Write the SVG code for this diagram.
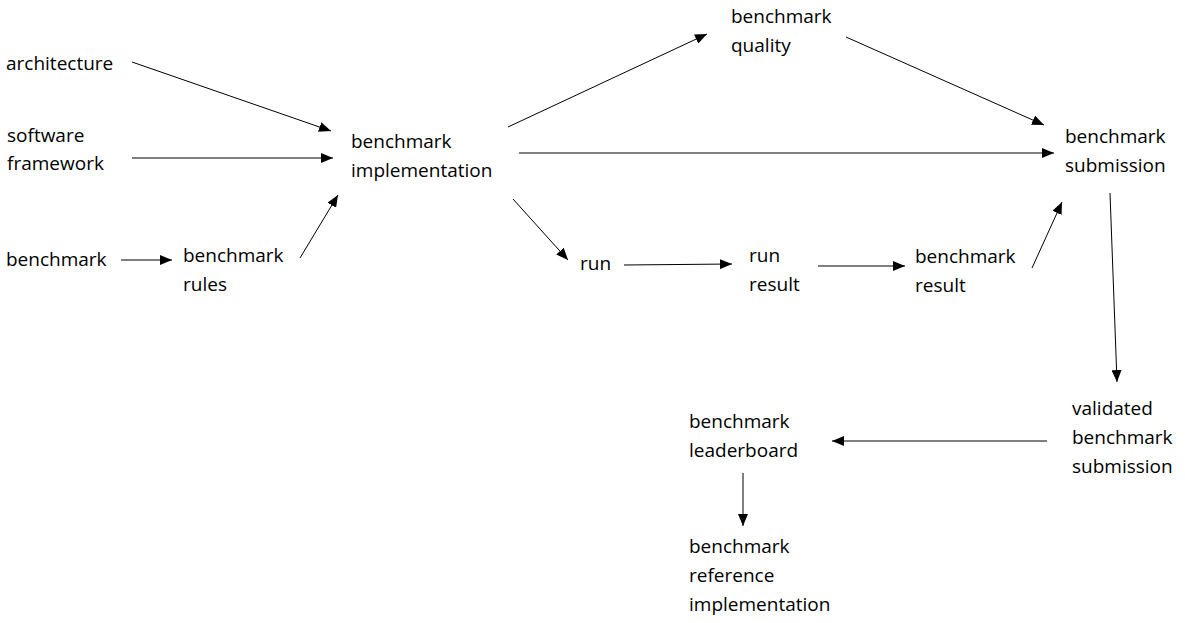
<svg xmlns="http://www.w3.org/2000/svg" width="1185" height="623" viewBox="0 0 1185 623">
<defs>
<marker id="ah" markerUnits="userSpaceOnUse" markerWidth="12" markerHeight="10" refX="12" refY="5" orient="auto">
<path d="M0,0 L12,5 L0,10 Z" fill="#000"/>
</marker>
<style>
text{font-family:"Open Sans","Noto Sans",sans-serif;font-size:19px;fill:#000}
.c line{stroke:#000;stroke-width:1;marker-end:url(#ah)}
</style>
</defs>
<rect width="1185" height="623" fill="#fff"/>
<g class="c" id="connectors">
<line x1="132" y1="62" x2="331" y2="131"/>
<line x1="132" y1="158" x2="333" y2="158"/>
<line x1="300" y1="258" x2="338" y2="195"/>
<line x1="121" y1="260" x2="172" y2="260"/>
<line x1="508" y1="127" x2="707" y2="34"/>
<line x1="519" y1="153" x2="1054" y2="153"/>
<line x1="513" y1="199" x2="568" y2="260"/>
<line x1="846" y1="37" x2="1044" y2="125"/>
<line x1="624" y1="265" x2="732" y2="264"/>
<line x1="818" y1="266" x2="905" y2="266"/>
<line x1="1032" y1="268" x2="1062" y2="202"/>
<line x1="1110" y1="193" x2="1117" y2="382"/>
<line x1="1047" y1="441" x2="832" y2="441"/>
<line x1="743" y1="473" x2="743" y2="526"/>
</g>
<g id="architecture"><text x="6" y="70">architecture</text></g>
<g id="software-framework"><text x="7" y="142">software</text><text x="7" y="170">framework</text></g>
<g id="benchmark"><text x="6" y="266">benchmark</text></g>
<g id="benchmark-rules"><text x="183" y="262">benchmark</text><text x="183" y="291">rules</text></g>
<g id="benchmark-implementation"><text x="351" y="148">benchmark</text><text x="351" y="177">implementation</text></g>
<g id="benchmark-quality"><text x="731" y="23">benchmark</text><text x="731" y="52">quality</text></g>
<g id="benchmark-submission"><text x="1065" y="143">benchmark</text><text x="1065" y="172">submission</text></g>
<g id="run"><text x="580" y="270">run</text></g>
<g id="run-result"><text x="749" y="262">run</text><text x="749" y="291">result</text></g>
<g id="benchmark-result"><text x="915" y="263">benchmark</text><text x="915" y="292">result</text></g>
<g id="validated-benchmark-submission"><text x="1072" y="415">validated</text><text x="1072" y="444">benchmark</text><text x="1072" y="473">submission</text></g>
<g id="benchmark-leaderboard"><text x="689" y="428">benchmark</text><text x="689" y="457">leaderboard</text></g>
<g id="benchmark-reference-implementation"><text x="689" y="553">benchmark</text><text x="689" y="582">reference</text><text x="689" y="611">implementation</text></g>
</svg>
